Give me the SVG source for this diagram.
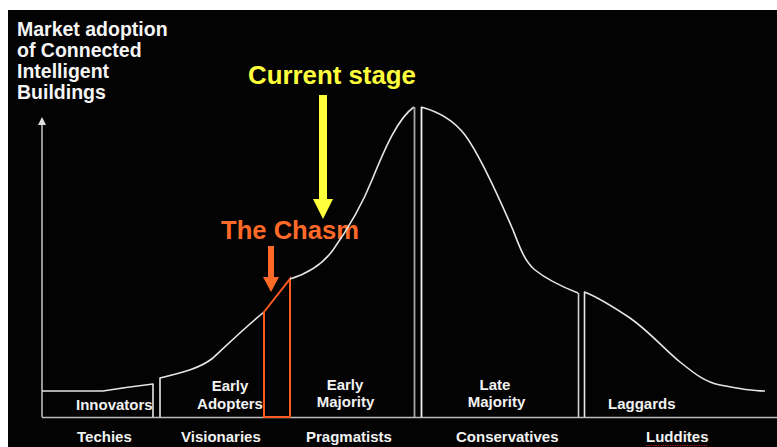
<svg xmlns="http://www.w3.org/2000/svg" width="777" height="447" viewBox="0 0 777 447">
<style>
text{font-family:"Liberation Sans",Arial,sans-serif;font-weight:bold}
.lbl{fill:#f2f2f2;font-size:15px}
.ttl{fill:#f5f5f5;font-size:19.5px}
.curve{fill:none;stroke:#e6e6e6;stroke-width:1.6;stroke-linejoin:round}
.axis{fill:none;stroke:#bdbdbd;stroke-width:1.6}
</style>
<defs>
<marker id="axHead" viewBox="0 0 8 8" refX="6" refY="4" markerWidth="8" markerHeight="8" markerUnits="userSpaceOnUse" orient="auto">
<path d="M0,0 L8,4 L0,8 Z" fill="#e0e0e0"/>
</marker>
</defs>
<rect x="0" y="0" width="777" height="447" fill="#ffffff"/>
<rect x="8" y="10" width="769" height="437" fill="#030303"/>

<g id="axes">
<path class="axis" d="M42,417 V119" marker-end="url(#axHead)"/>
<path class="axis" d="M42,417.5 H777"/>
</g>

<g id="title">
<text class="ttl" x="17" y="36">Market adoption</text>
<text class="ttl" x="17" y="57">of Connected</text>
<text class="ttl" x="17" y="78">Intelligent</text>
<text class="ttl" x="17" y="99">Buildings</text>
</g>

<g id="innovators">
<path class="curve" d="M42,391 H103 Q128,387 153,384 V417"/>
<text class="lbl" x="76" y="410">Innovators</text>
<text class="lbl" x="77" y="442">Techies</text>
</g>

<g id="early-adopters">
<path class="curve" d="M160,417 V378 C185,372 200,368 213,358 C225,347 242,330 264,312"/>
<text class="lbl" x="230" y="391" text-anchor="middle">Early</text>
<text class="lbl" x="230" y="409" text-anchor="middle">Adopters</text>
<text class="lbl" x="181" y="442">Visionaries</text>
</g>

<g id="chasm">
<path d="M264,417 V312 L290,279 V417 Z" fill="none" stroke="#ff5a22" stroke-width="2" stroke-linejoin="miter"/>
<text x="221" y="239" font-size="25" fill="#ff6a28" textLength="138" lengthAdjust="spacingAndGlyphs">The Chasm</text>
</g>

<g id="early-majority">
<path class="curve" d="M290,279 C303,275 320,268 333,250 C345,233 360,210 372,180 C385,148 398,118 414,107"/>
<path d="M414.5,417 V107" fill="none" stroke="#a8a8a8" stroke-width="1.8"/>
<text class="lbl" x="345" y="390" text-anchor="middle">Early</text>
<text class="lbl" x="345.5" y="407" text-anchor="middle">Majority</text>
<text class="lbl" x="306" y="442">Pragmatists</text>
</g>

<g id="late-majority">
<path d="M421.5,417 V107" fill="none" stroke="#f0f0f0" stroke-width="1.8"/>
<path class="curve" d="M421,107 C440,112 455,122 465,135 C480,155 500,200 513,230 C520,248 525,262 535,270 C545,278 560,286 578,293"/>
<path d="M578.5,293 V417" fill="none" stroke="#cfcfcf" stroke-width="1.6"/>
<text class="lbl" x="495" y="390" text-anchor="middle">Late</text>
<text class="lbl" x="496.5" y="407" text-anchor="middle">Majority</text>
<text class="lbl" x="456" y="442">Conservatives</text>
</g>

<g id="laggards">
<path class="curve" d="M584.5,417 V292 C600,298 615,308 630,318 C650,332 665,350 680,362 C695,374 705,382 720,385 C740,389 755,391 765,391"/>
<text class="lbl" x="608" y="409">Laggards</text>
<text class="lbl" x="646" y="442">Luddites</text>
<path d="M646,445.5 H707" stroke="#d01818" stroke-width="1.2" stroke-dasharray="1.2,1.2"/>
</g>

<g id="current-stage">
<text x="248" y="84" font-size="26" fill="#ffff3c" textLength="168" lengthAdjust="spacingAndGlyphs">Current stage</text>
</g>

<g id="connectors">
<path d="M319,95 H327 V199 H333 L323,219 L313,199 H319 Z" fill="#ffff3c"/>
<path d="M268,246 H274 V277 H279 L271,292 L263,277 H268 Z" fill="#ff6a28"/>
</g>
</svg>
